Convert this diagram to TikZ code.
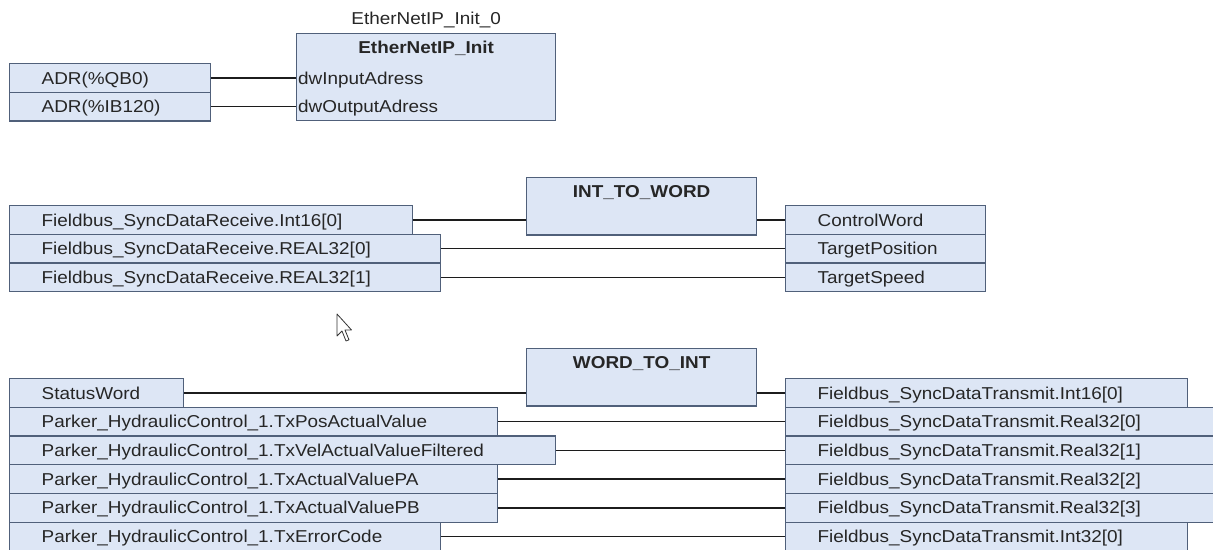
\documentclass[tikz,border=0pt]{standalone}
\usepackage{fontspec}
\setmainfont{Liberation Sans}[FakeStretch=1.1]
\usetikzlibrary{calc}
\definecolor{boxfill}{RGB}{221,230,245}
\definecolor{boxline}{RGB}{80,96,122}
\definecolor{wirecol}{RGB}{28,28,28}
\definecolor{txtcol}{RGB}{38,38,38}

\begin{document}
\begin{tikzpicture}[x=1pt,y=-1pt,font=\fontsize{17.2}{20}\selectfont,text=txtcol,
  var/.style={draw=boxline,fill=boxfill,line width=1.3pt,rectangle,anchor=north west,
    minimum height=28.7pt,inner sep=0pt,text height=12.3pt,text depth=0pt,align=left,
    execute at begin node={\hspace*{32pt}}},
  fb/.style={draw=boxline,fill=boxfill,line width=1.3pt,rectangle,anchor=north west,
    minimum width=230pt,minimum height=57.4pt},
  fbname/.style={anchor=north,inner ysep=7.8pt,font=\fontsize{17.2}{20}\selectfont\bfseries,
    text height=12.3pt,text depth=0pt},
  pinname/.style={anchor=west,inner xsep=2pt,inner ysep=0pt,text height=12.3pt,text depth=0pt},
  wire/.style={draw=wirecol,line width=1.5pt}]
\useasboundingbox (0,0) rectangle (1213,549);
\clip (0,0) rectangle (1213,549);

\node[fb,minimum width=259pt,minimum height=87pt] (eip) at (296,33) {};
\node[fbname] (eipt) at (eip.north) {EtherNetIP\_Init};
\node[anchor=south,inner ysep=8.8pt,text height=12.3pt,text depth=0pt] (eipi) at (eip.north) {EtherNetIP\_Init\_0};
\node[var,text width=201pt] (qb0) at (9,63) {ADR(\%QB0)};
\node[var,text width=201pt] (ib120) at (9,91.7) {ADR(\%IB120)};
\node[pinname] (din) at (eip.west |- qb0) {dwInputAdress};
\node[pinname] (dout) at (eip.west |- ib120) {dwOutputAdress};

\node[fb] (itw) at (526,177) {};
\node[fbname] (itwt) at (itw.north) {INT\_TO\_WORD};
\node[var,text width=403pt] (ri16) at (9,205) {Fieldbus\_SyncDataReceive.Int16[0]};
\node[var,text width=431pt] (rr0) at (9,233.7) {Fieldbus\_SyncDataReceive.REAL32[0]};
\node[var,text width=431pt] (rr1) at (9,262.4) {Fieldbus\_SyncDataReceive.REAL32[1]};
\node[var,text width=200pt] (cw) at (785,205) {ControlWord};
\node[var,text width=200pt] (tpos) at (785,233.7) {TargetPosition};
\node[var,text width=200pt] (tspd) at (785,262.4) {TargetSpeed};

\node[fb] (wti) at (526,348) {};
\node[fbname] (wtit) at (wti.north) {WORD\_TO\_INT};
\node[var,text width=174pt] (sw) at (9,378) {StatusWord};
\node[var,text width=488pt] (pos) at (9,406.7) {Parker\_HydraulicControl\_1.TxPosActualValue};
\node[var,text width=546pt] (vel) at (9,435.4) {Parker\_HydraulicControl\_1.TxVelActualValueFiltered};
\node[var,text width=488pt] (pa) at (9,464.1) {Parker\_HydraulicControl\_1.TxActualValuePA};
\node[var,text width=488pt] (pb) at (9,492.8) {Parker\_HydraulicControl\_1.TxActualValuePB};
\node[var,text width=431pt] (err) at (9,521.5) {Parker\_HydraulicControl\_1.TxErrorCode};
\node[var,text width=402pt] (ti16) at (785,378) {Fieldbus\_SyncDataTransmit.Int16[0]};
\node[var,text width=440pt] (tr0) at (785,406.7) {Fieldbus\_SyncDataTransmit.Real32[0]};
\node[var,text width=440pt] (tr1) at (785,435.4) {Fieldbus\_SyncDataTransmit.Real32[1]};
\node[var,text width=440pt] (tr2) at (785,464.1) {Fieldbus\_SyncDataTransmit.Real32[2]};
\node[var,text width=440pt] (tr3) at (785,492.8) {Fieldbus\_SyncDataTransmit.Real32[3]};
\node[var,text width=402pt] (ti32) at (785,521.5) {Fieldbus\_SyncDataTransmit.Int32[0]};

\draw[wire] (qb0) -- (din) (ib120) -- (dout);
\draw[wire] (ri16) -- (ri16 -| itw.west) (itw.east |- cw) -- (cw)
  (rr0) -- (tpos) (rr1) -- (tspd);
\draw[wire] (sw) -- (sw -| wti.west) (wti.east |- ti16) -- (ti16)
  (pos) -- (tr0) (vel) -- (tr1) (pa) -- (tr2) (pb) -- (tr3) (err) -- (ti32);

\draw[fill=white,draw=black!80,line width=0.8pt,line join=round] (337,314) -- ++(0,22)
  -- ++(5,-5) -- ++(4,10) -- ++(3,-1.2) -- ++(-4,-9.8) -- ++(6.5,0) -- cycle;
\end{tikzpicture}
\end{document}
